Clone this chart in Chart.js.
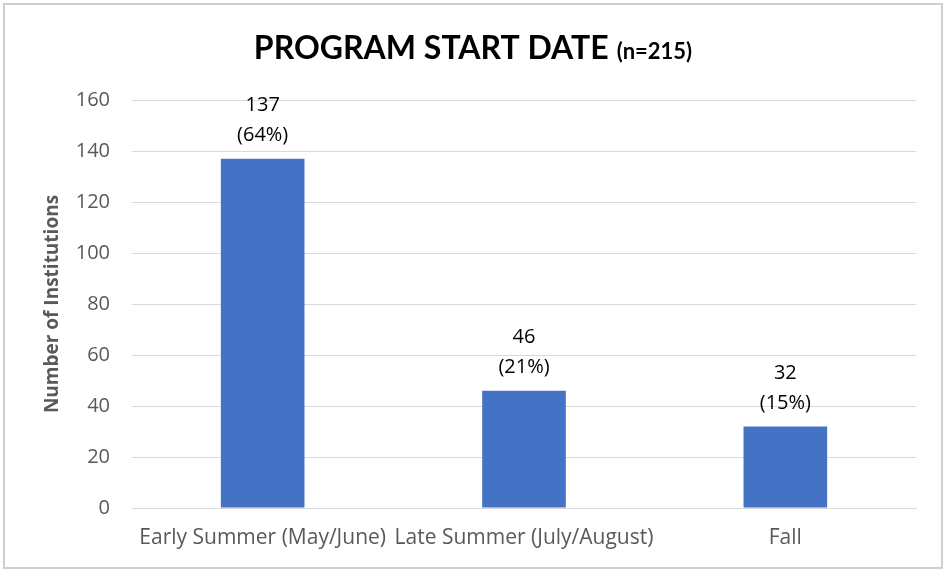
<!DOCTYPE html>
<html>
<head>
<meta charset="utf-8">
<script src="https://cdn.jsdelivr.net/npm/chart.js@4/dist/chart.umd.min.js"></script>
<style>
  html, body { margin: 0; padding: 0; background: #fff; }
  #wrap { width: 946px; height: 571px; position: relative; }
</style>
</head>
<body>
<div id="wrap"><canvas id="c" width="946" height="571"></canvas></div>
<script>
const categories = ['Early Summer (May/June)', 'Late Summer (July/August)', 'Fall'];
const counts = [137, 46, 32];
const percents = ['(64%)', '(21%)', '(15%)'];
const yTicks = [0, 20, 40, 60, 80, 100, 120, 140, 160];
const titleMain = 'PROGRAM START DATE';
const titleSub = '(n=215)';
const yTitle = 'Number of Institutions';

const FONT = '"Open Sans", Lato, sans-serif';
const TFONT = 'Lato, "Open Sans", sans-serif';

const framePlugin = {
  id: 'frame',
  beforeDraw(chart) {
    const ctx = chart.ctx;
    ctx.save();
    ctx.fillStyle = '#ffffff';
    ctx.fillRect(0, 0, chart.width, chart.height);
    ctx.strokeStyle = '#cfcfcf';
    ctx.lineWidth = 2;
    ctx.strokeRect(4, 4, chart.width - 8, chart.height - 7);
    // Title
    ctx.fillStyle = '#000000';
    ctx.textBaseline = 'alphabetic';
    ctx.font = 'bold 32px ' + TFONT;
    const w1 = ctx.measureText(titleMain).width;
    ctx.font = 'bold 22px ' + TFONT;
    const gap = 8;
    const w2 = ctx.measureText(titleSub).width;
    const total = w1 + gap + w2;
    const x0 = chart.width / 2 - total / 2;
    const base = 59;
    ctx.font = 'bold 32px ' + TFONT;
    ctx.textAlign = 'left';
    ctx.fillText(titleMain, x0, base);
    ctx.font = 'bold 22px ' + TFONT;
    ctx.fillText(titleSub, x0 + w1 + gap, base);
    ctx.restore();
  }
};

const labelPlugin = {
  id: 'barLabels',
  afterDatasetsDraw(chart) {
    const ctx = chart.ctx;
    const meta = chart.getDatasetMeta(0);
    ctx.save();
    ctx.fillStyle = '#000000';
    ctx.font = '20px ' + FONT;
    ctx.textAlign = 'center';
    ctx.textBaseline = 'middle';
    meta.data.forEach((bar, i) => {
      ctx.fillText(String(counts[i]), bar.x, bar.y - 53);
      ctx.fillText(percents[i], bar.x, bar.y - 23);
    });
    ctx.restore();
  }
};

new Chart(document.getElementById('c'), {
  type: 'bar',
  data: {
    labels: categories,
    datasets: [{
      data: counts,
      backgroundColor: '#4472C4',
      borderWidth: 0,
      barPercentage: 0.32,
      categoryPercentage: 1.0
    }]
  },
  options: {
    responsive: false,
    animation: false,
    devicePixelRatio: 1,
    layout: { padding: { top: 100, right: 30, left: 0, bottom: 0 } },
    plugins: {
      legend: { display: false },
      title: { display: false },
      tooltip: { enabled: false }
    },
    scales: {
      x: {
        grid: { display: false, drawTicks: false },
        border: { display: true, color: '#d9d9d9', width: 1 },
        ticks: {
          color: '#595959',
          font: { family: FONT, size: 21 },
          padding: 17,
          maxRotation: 0,
          autoSkip: false
        },
        afterFit(scale) { scale.height = 63; }
      },
      y: {
        min: 0,
        max: 160,
        afterBuildTicks(scale) { scale.ticks = yTicks.map(v => ({ value: v })); },
        grid: { color: '#d9d9d9', lineWidth: 1, drawTicks: false },
        border: { display: false },
        ticks: {
          color: '#595959',
          font: { family: FONT, size: 20 },
          padding: 22
        },
        title: {
          display: true,
          text: yTitle,
          color: '#595959',
          font: { family: FONT, size: 19, weight: 'bold' },
          padding: { top: 41, bottom: 0 }
        },
        afterFit(scale) { scale.width = 132; }
      }
    }
  },
  plugins: [framePlugin, labelPlugin]
});
</script>
</body>
</html>
